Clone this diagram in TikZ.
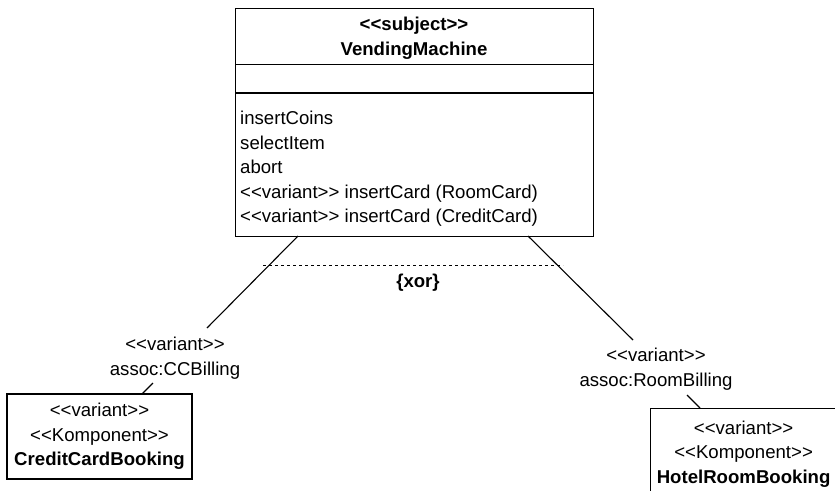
\documentclass[tikz,border=0pt]{standalone}
\usepackage{fontspec}
\setmainfont{Liberation Sans}[Ligatures=TeXOff]
\begin{document}
\begin{tikzpicture}[x=1pt,y=-1pt,
  every node/.style={font=\fontsize{18.6}{24.5}\selectfont, inner sep=0pt},
  umlline/.style={line width=1.1pt, black},
  compbox/.style={draw, line width=1.2pt, align=center, inner sep=0pt},
  lbl/.style={align=center},
  xorline/.style={line width=1pt, dash pattern=on 3pt off 3pt}]
\useasboundingbox (0,0) rectangle (835,490);
\clip (0,0) rectangle (835,490);

% subject class with three compartments
\node[draw, line width=1.2pt, minimum width=358pt, minimum height=228.5pt, anchor=north west]
  (vm) at (235,7.5) {};
\draw[umlline] (vm.west |- 0,64.5) -- (vm.east |- 0,64.5);
\draw[umlline] (vm.west |- 0,93) -- (vm.east |- 0,93);
\node[lbl, font=\fontsize{18.6}{24.5}\selectfont\bfseries] (title) at (414,38)
  {<<subject>>\\VendingMachine};
\node[align=left, anchor=west] (ops) at (240,169)
  {insertCoins\\selectItem\\abort\\<<variant>> insertCard (RoomCard)\\<<variant>> insertCard (CreditCard)};

% variant components
\node[compbox, minimum width=185pt, minimum height=85pt] (ccb) at (99.5,436.5)
  {<<variant>>\\<<Komponent>>\\\textbf{CreditCardBooking}};
\node[compbox, minimum width=186pt, minimum height=91pt, anchor=north west] (hrb) at (650,408)
  {<<variant>>\\<<Komponent>>\\\textbf{HotelRoomBooking}};

% association labels
\node[lbl] (ccl) at (175,358) {<<variant>>\\assoc:CCBilling};
\node[lbl] (rbl) at (656,369) {<<variant>>\\assoc:RoomBilling};

% association ends
\coordinate (ccA) at (298,236);
\coordinate (ccB) at (207,328);
\coordinate (ccC) at (153,383);
\coordinate (ccD) at (142,394);
\coordinate (rbA) at (528,236);
\coordinate (rbB) at (633,340);
\coordinate (rbC) at (687,395);
\coordinate (rbD) at (700,408);

\draw[umlline] (ccA) -- (ccB);
\draw[umlline] (ccC) -- (ccD);
\draw[umlline] (rbA) -- (rbB);
\draw[umlline] (rbC) -- (rbD);

% xor constraint between the two associations
\coordinate (xl) at (263,265);
\coordinate (xr) at (563,265);
\draw[xorline] (xl) -- (xr);
\node[font=\fontsize{18.6}{24.5}\selectfont\bfseries] (xor) at (418,283) {\{xor\}};
\end{tikzpicture}
\end{document}
